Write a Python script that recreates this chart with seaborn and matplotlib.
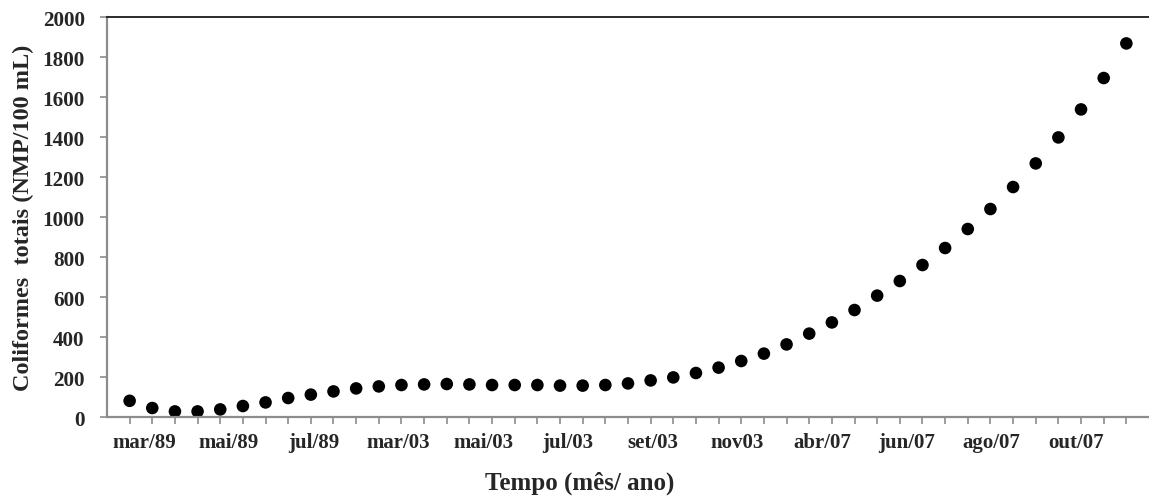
import numpy as np
import pandas as pd
import matplotlib
matplotlib.use("Agg")
import matplotlib.pyplot as plt
import seaborn as sns
from matplotlib.ticker import FixedLocator

# ---- data ----
periodo = list(range(45))
coliformes = [81, 45, 28, 28, 38, 55, 73, 95, 112, 128, 143, 153, 160, 163, 165, 163,
              160, 160, 160, 157, 157, 160, 168, 183, 198, 220, 247, 280, 317, 363,
              417, 473, 535, 607, 680, 760, 845, 940, 1040, 1150, 1268, 1398, 1538,
              1695, 1868]
rotulos = ["mar/89", "mai/89", "jul/89", "mar/03", "mai/03", "jul/03",
           "set/03", "nov03", "abr/07", "jun/07", "ago/07", "out/07"]
yticks = list(range(0, 2001, 200))

df = pd.DataFrame({"t": periodo, "c": coliformes})

sns.set_theme(style="white")
plt.rcParams["font.family"] = ["Liberation Serif", "DejaVu Serif"]
plt.rcParams["font.weight"] = "bold"

fig = plt.figure(figsize=(11.49, 5.02), dpi=100)
ax = fig.add_axes([0.0931, 0.1673, 0.9069, 0.7968])

sns.scatterplot(data=df, x="t", y="c", ax=ax, color="black", s=82,
                edgecolor="none", linewidth=0, legend=False)

ax.set_xlim(-1, 45)
ax.set_ylim(0, 2000)

gray = "#8c8c8c"
ax.spines["right"].set_visible(False)
ax.spines["top"].set_color("#1a1a1a")
ax.spines["top"].set_linewidth(1.3)
for s in ("left", "bottom"):
    ax.spines[s].set_color(gray)
    ax.spines[s].set_linewidth(1.6)

ax.set_yticks(yticks)
ax.set_yticklabels([str(v) for v in yticks], fontsize=15.2, fontweight="bold")
ax.tick_params(axis="y", which="major", direction="out", length=5, width=1.2,
               color=gray, pad=11, left=True)

label_pos = [0.64 + 3.742 * k for k in range(len(rotulos))]
ax.xaxis.set_major_locator(FixedLocator(label_pos))
ax.set_xticklabels(rotulos, fontsize=15, fontweight="bold")
ax.xaxis.set_minor_locator(FixedLocator(periodo))
ax.tick_params(axis="x", which="major", length=0, pad=11, bottom=True)
ax.tick_params(axis="x", which="minor", direction="out", length=5, width=1.2,
               color=gray, bottom=True)

ax.set_xlabel("Tempo (mês/ ano)", fontsize=18, fontweight="bold", labelpad=12)
ax.xaxis.set_label_coords(0.454, -0.135)
ax.xaxis.label.set_va("top")
ax.set_ylabel("Coliformes  totais (NMP/100 mL)", fontsize=17.5, fontweight="bold",
              labelpad=6)
ax.grid(False)

fig.savefig("out.png", dpi=100)
